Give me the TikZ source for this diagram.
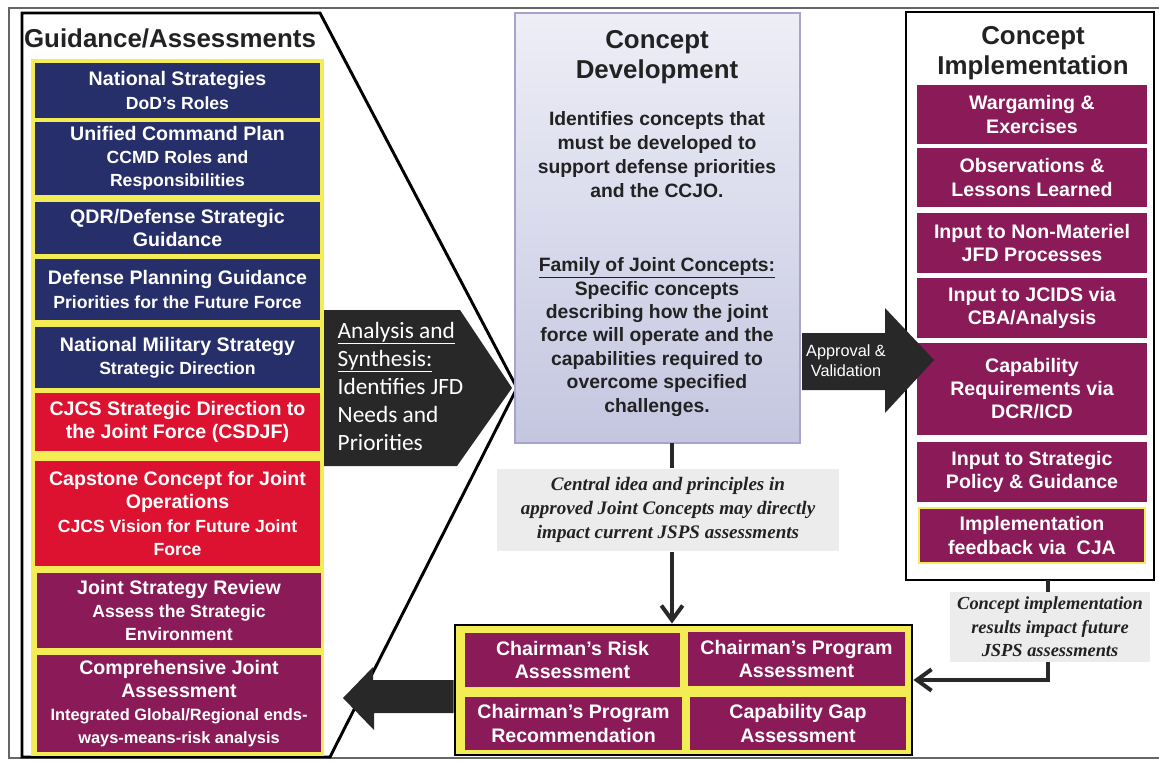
\documentclass[tikz,border=0pt]{standalone}
\usepackage{fontspec}
\setmainfont{Liberation Sans}
\newfontfamily\carlfont{Carlito}
\newfontfamily\timesfont{Liberation Serif}
\usetikzlibrary{arrows.meta}
\definecolor{navyc}{RGB}{38,47,105}
\definecolor{redc}{RGB}{220,18,48}
\definecolor{purpc}{RGB}{138,26,88}
\definecolor{yelc}{RGB}{244,236,84}
\definecolor{arrowc}{RGB}{40,40,40}
\definecolor{darktext}{RGB}{34,34,34}
\definecolor{lavtop}{RGB}{238,238,247}
\definecolor{lavbot}{RGB}{196,198,224}
\definecolor{lavborder}{RGB}{168,162,204}
\definecolor{graybg}{RGB}{236,236,236}
\newcommand\sublbl[1]{{\fontsize{13.2}{16}\selectfont #1}}
\newcommand\smalllbl[1]{{\fontsize{12.3}{15}\selectfont #1}}
% box from (x1,y1) to (x2,y2) in px: name, style, x1, y1, x2, y2, text
\newcommand\mkbox[7]{%
  \node[#2, minimum width={(#5-#3)*0.75pt}, minimum height={(#6-#4)*0.75pt}]
    (#1) at ({(#3+#5)/2},{(#4+#6)/2}) {#7};}
\tikzset{
  tbox/.style={inner sep=0pt, outer sep=0pt, text=white, align=center,
    font=\fontsize{14.7}{17.3}\selectfont\bfseries},
  navybox/.style={tbox, fill=navyc},
  redbox/.style={tbox, fill=redc},
  purpbox/.style={tbox, fill=purpc},
  hdr/.style={text=darktext, align=center,
    font=\fontsize{19.4}{22.5}\selectfont\bfseries},
  conn/.style={line width=3pt, draw=arrowc},
  connarrow/.style={conn, -{Straight Barb[length=11pt,width=16pt]}},
  noteitalic/.style={fill=graybg, align=center, text=darktext,
    font=\timesfont\bfseries\itshape\fontsize{14.3}{17.8}\selectfont},
}
\begin{document}
\begin{tikzpicture}[x=0.75pt,y=-0.75pt]
\useasboundingbox (0,0) rectangle (1159,763);
\fill[white] (0,0) rectangle (1159,763);
% page frame lines
\draw[black!60, line width=0.9pt] (1159,8) -- (9,8) -- (9,758) -- (1159,758);

% ---------- left outline ----------
\draw[black, line width=2.2pt, fill=white] (22,13) -- (320,13) -- (517,388) -- (330,757) -- (22,757) -- cycle;
\node[hdr] (gh) at (170,38) {Guidance/Assessments};
\fill[yelc] (31,59) rectangle (324,756);

\mkbox{l1}{navybox}{35}{63}{320}{118}{National Strategies\\\sublbl{DoD's Roles}}
\mkbox{l2}{navybox}{35}{122}{320}{195}{Unified Command Plan\\\sublbl{CCMD Roles and}\\\sublbl{Responsibilities}}
\mkbox{l3}{navybox}{35}{202}{320}{254}{QDR/Defense Strategic\\Guidance}
\mkbox{l4}{navybox}{35}{259}{320}{320}{Defense Planning Guidance\\\sublbl{Priorities for the Future Force}}
\mkbox{l5}{navybox}{35}{327}{320}{388}{National Military Strategy\\\sublbl{Strategic Direction}}
\mkbox{l6}{redbox}{35}{393}{320}{451}{CJCS Strategic Direction to\\the Joint Force (CSDJF)}
\mkbox{l7}{redbox}{35}{461}{320}{566}{Capstone Concept for Joint\\Operations\\\sublbl{CJCS Vision for Future Joint}\\\sublbl{Force}}
\mkbox{l8}{purpbox}{37}{573}{321}{648}{Joint Strategy Review\\\sublbl{Assess the Strategic}\\\sublbl{Environment}}
\mkbox{l9}{purpbox}{37}{655}{321}{752}{Comprehensive Joint\\Assessment\\\smalllbl{Integrated Global/Regional ends-}\\\smalllbl{ways-means-risk analysis}}

% ---------- analysis arrow ----------
\fill[arrowc] (324,310) -- (460,310) -- (512,388) -- (457,466) -- (324,466) -- cycle;
\node[anchor=west, align=left, text=white, font=\carlfont\fontsize{17.5}{21}\selectfont] (as) at (333,386)
  {\underline{Analysis and}\\\underline{Synthesis:}\\Identifies JFD\\Needs and\\Priorities};

% ---------- concept development ----------
\mkbox{cd}{draw=lavborder, line width=2.2pt, top color=lavtop, bottom color=lavbot}{515}{13}{800}{443}{}
\node[hdr] (cdt) at (657,57) {Concept\\Development};
\node[align=center, text=darktext, font=\fontsize{14.5}{18}\selectfont\bfseries] (cd1) at (657,155)
  {Identifies concepts that\\must be developed to\\support defense priorities\\and the CCJO.};
\node[align=center, text=darktext, font=\fontsize{14.5}{17.6}\selectfont\bfseries] (cd2) at (657,337)
  {\underline{Family of Joint Concepts:}\\Specific concepts\\describing how the joint\\force will operate and the\\capabilities required to\\overcome specified\\challenges.};

% ---------- concept implementation ----------
\mkbox{ci}{draw=black, line width=2.2pt, fill=white}{906}{12}{1154}{580}{}
\node[hdr] (cit) at (1033,53) {Concept\\Implementation};
\mkbox{r1}{purpbox}{917}{85}{1147}{144}{Wargaming \&\\Exercises}
\mkbox{r2}{purpbox}{917}{148}{1147}{207}{Observations \&\\Lessons Learned}
\mkbox{r3}{purpbox}{917}{213}{1147}{273}{Input to Non-Materiel\\JFD Processes}
\mkbox{r4}{purpbox}{917}{278}{1147}{338}{Input to JCIDS via\\CBA/Analysis}
\mkbox{r5}{purpbox}{917}{343}{1147}{435}{Capability\\Requirements via\\DCR/ICD}
\mkbox{r6}{purpbox}{917}{442}{1147}{502}{Input to Strategic\\Policy \& Guidance}
\mkbox{r7}{purpbox, draw=yelc, line width=2.2pt}{919}{508}{1145}{563}{Implementation\\feedback via\ \ CJA}

% ---------- approval arrow ----------
\fill[arrowc] (802,333) -- (885,333) -- (885,308) -- (934,360) -- (885,413) -- (885,390) -- (802,390) -- cycle;
\node[align=center, text=white, font=\fontsize{12.2}{15}\selectfont] (av) at (846,361) {Approval \&\\Validation};

% ---------- bottom assessments ----------
\mkbox{bg}{draw=black, line width=2.2pt, fill=yelc}{455}{625}{912}{755}{}
\mkbox{b1}{purpbox}{465}{633}{680}{687}{Chairman's Risk\\Assessment}
\mkbox{b2}{purpbox}{688}{632}{905}{686}{Chairman's Program\\Assessment}
\mkbox{b3}{purpbox}{465}{697}{682}{750}{Chairman's Program\\Recommendation}
\mkbox{b4}{purpbox}{690}{697}{906}{750}{Capability Gap\\Assessment}

% left block arrow
\coordinate (lat) at (0,680);
\coordinate (lab) at (0,713);
\fill[arrowc] (bg.west |- lat) -- (373,680) -- (373,667) -- (343,698) -- (374,730) -- (374,713) -- (bg.west |- lab) -- cycle;

% ---------- notes and connectors ----------
\node[noteitalic, minimum width=257pt, minimum height=62pt] (cn) at (668,510)
  {Central idea and principles in\\approved Joint Concepts may directly\\impact current JSPS assessments};
\coordinate (cdb) at (672,443);
\draw[conn] (cdb) -- (cdb |- cn.north);
\draw[connarrow] (cdb |- cn.south) -- (cdb |- bg.north);

\node[noteitalic, font=\timesfont\bfseries\itshape\fontsize{13.8}{17.6}\selectfont, minimum width=150pt, minimum height=52pt] (rn) at (1050,627)
  {Concept implementation\\results impact future\\JSPS assessments};
\coordinate (cib) at (1048,580);
\coordinate (ah) at (1048,680);
\draw[conn] (cib) -- (cib |- rn.north);
\draw[connarrow] (cib |- rn.south) -- (ah) -- (ah -| bg.east);
\end{tikzpicture}
\end{document}
